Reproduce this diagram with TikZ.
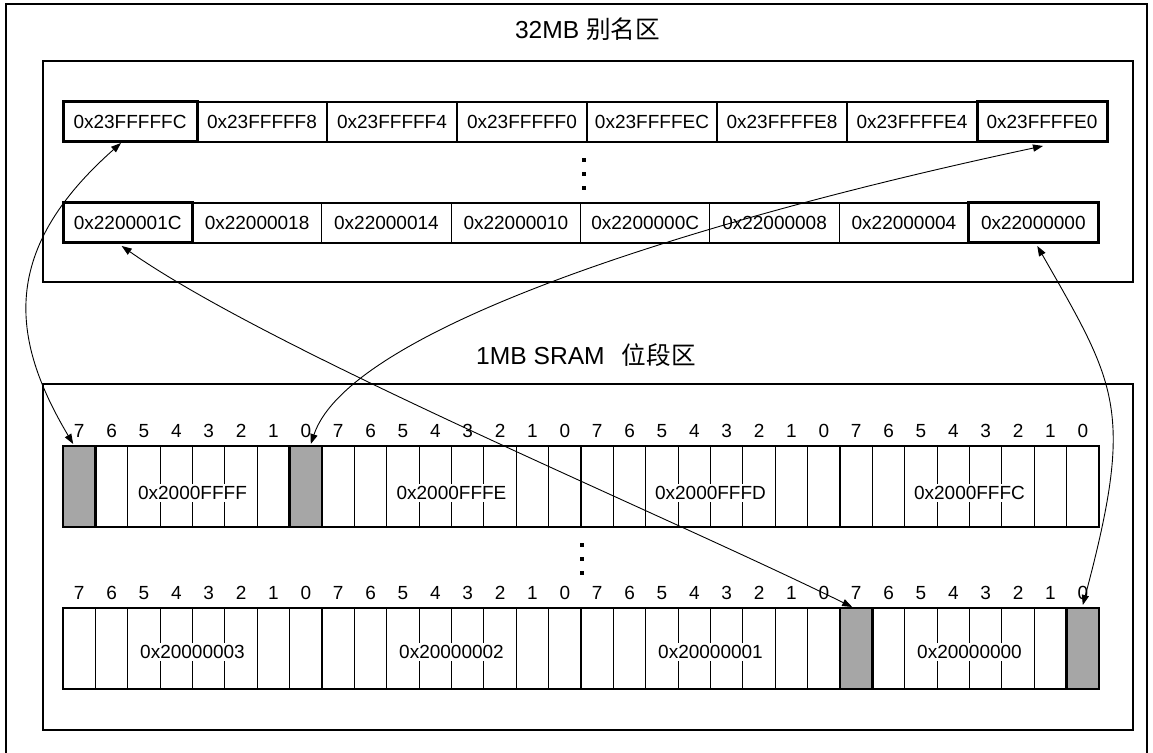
\documentclass[tikz,border=0pt]{standalone}
\usepackage{fontspec}
\setmainfont{Liberation Sans}
\newfontfamily\cjk{Noto Sans CJK SC}
\usetikzlibrary{arrows.meta}
\begin{document}
\begin{tikzpicture}[x=0.5pt,y=-0.5pt,
  frame/.style={draw, line width=1pt},
  region/.style={draw, line width=0.8pt},
  cell/.style={draw, line width=0.6pt, minimum height=20pt, inner sep=0pt, outer sep=0pt,
               anchor=north west, font=\fontsize{9.5}{11}\selectfont},
  boldcell/.style={line width=1.5pt},
  bitbox/.style={draw, line width=0.5pt, minimum width=16.1875pt, minimum height=40.5pt,
               inner sep=0pt, outer sep=0pt, anchor=north west},
  bytebox/.style={draw, line width=1.4pt, minimum width=129.5pt, minimum height=40.5pt,
               inner sep=0pt, outer sep=0pt, anchor=north west},
  shade/.style={fill=black!35, draw, line width=1.4pt},
  bitnum/.style={font=\fontsize{9.5}{11}\selectfont, inner sep=0pt},
  addr/.style={fill=white, inner xsep=0.6pt, inner ysep=1.2pt, font=\fontsize{9.5}{11}\selectfont},
  title/.style={font=\fontsize{12.3}{14}\selectfont, anchor=base, inner sep=0pt},
  vdot/.style={fill=black, minimum size=2pt, inner sep=0pt, outer sep=0pt},
  link/.style={{Triangle[length=5pt,width=3.6pt]}-{Triangle[length=5pt,width=3.6pt]}, line width=0.45pt}
]
\useasboundingbox (0,0) rectangle (1153,753);
\draw[frame] (6,4) rectangle (1147,765);

% ---------- 32MB alias region ----------
\node[title] (title1) at (587.5,39) {32MB {\cjk 别名区}};
\draw[region] (43,61) rectangle (1133,282);

\node[cell, minimum width=67pt] (t0) at (63,102) {0x23FFFFFC};
\foreach \lab [count=\i from 1] in {0x23FFFFF8,0x23FFFFF4,0x23FFFFF0,0x23FFFFEC,0x23FFFFE8,0x23FFFFE4,0x23FFFFE0} {
  \node[cell, minimum width=65pt] (t\i) at (197+130*\i-130,102) {\lab};
}
\foreach \lab [count=\i from 0] in {0x2200001C,0x22000018,0x22000014,0x22000010,0x2200000C,0x22000008,0x22000004,0x22000000} {
  \node[cell, minimum width=64.6875pt] (b\i) at (63+129.375*\i,203) {\lab};
}
\draw[boldcell] (t0.north west) rectangle (t0.south east);
\draw[boldcell] (t7.north west) rectangle (t7.south east);
\draw[boldcell] (b0.north west) rectangle (b0.south east);
\draw[boldcell] (b7.north west) rectangle (b7.south east);

\node[vdot] (dt1) at (584,160) {};
\node[vdot] (dt2) at (584,174) {};
\node[vdot] (dt3) at (584,188) {};

% ---------- 1MB SRAM bit-band region ----------
\node[title] (title2) at (586,365) {1MB SRAM\hspace{0.7em}{\cjk 位段区}};
\draw[region] (43,384) rectangle (1133,730);

\foreach \lab [count=\i from 0] in {0x2000FFFF,0x2000FFFE,0x2000FFFD,0x2000FFFC} {
  \foreach \k in {0,...,7} {
    \pgfmathsetmacro\bx{63+259*\i+32.375*\k}
    \pgfmathtruncatemacro\bn{7-\k}
    \node[bitbox] (A-\i-\bn) at (\bx,446) {};
    \node[bitnum] (An-\i-\bn) at (\bx+16.19,431) {\bn};
  }
  \node[addr] (Aa-\i) at (63+259*\i+129.5,493) {\lab};
  \node[bytebox] (Ay-\i) at (63+259*\i,446) {};
}
\foreach \lab [count=\i from 0] in {0x20000003,0x20000002,0x20000001,0x20000000} {
  \foreach \k in {0,...,7} {
    \pgfmathsetmacro\bx{63+259*\i+32.375*\k}
    \pgfmathtruncatemacro\bn{7-\k}
    \node[bitbox] (B-\i-\bn) at (\bx,608) {};
    \node[bitnum] (Bn-\i-\bn) at (\bx+16.19,593) {\bn};
  }
  \node[addr] (Ba-\i) at (63+259*\i+129.5,652) {\lab};
  \node[bytebox] (By-\i) at (63+259*\i,608) {};
}
\draw[shade] (A-0-7.north west) rectangle (A-0-7.south east);
\draw[shade] (A-0-0.north west) rectangle (A-0-0.south east);
\draw[shade] (B-3-7.north west) rectangle (B-3-7.south east);
\draw[shade] (B-3-0.north west) rectangle (B-3-0.south east);

\node[vdot] (db1) at (582,545) {};
\node[vdot] (db2) at (582,559) {};
\node[vdot] (db3) at (582,573) {};

% ---------- mapping arrows ----------
\draw[link] ([xshift=-4.5pt,yshift=-0.5pt]t0.south) .. controls +(-121,107) and +(-63,-106) .. ([xshift=-3pt,yshift=1pt]A-0-7.north);
\draw[link] ([xshift=0.5pt,yshift=-2pt]t7.south) .. controls +(-343,73) and +(39,-116) .. ([xshift=2.5pt,yshift=1pt]A-0-0.north);
\draw[link] ([xshift=-3pt,yshift=-1.5pt]b0.south) .. controls +(150,105) and +(-200,-98) .. ([xshift=-2pt,yshift=0.5pt]B-3-7.north);
\draw[link] ([xshift=2pt,yshift=-1.5pt]b7.south) .. controls +(80,140) and +(52,-195) .. ([yshift=1.5pt]B-3-0.north);
\end{tikzpicture}
\end{document}
